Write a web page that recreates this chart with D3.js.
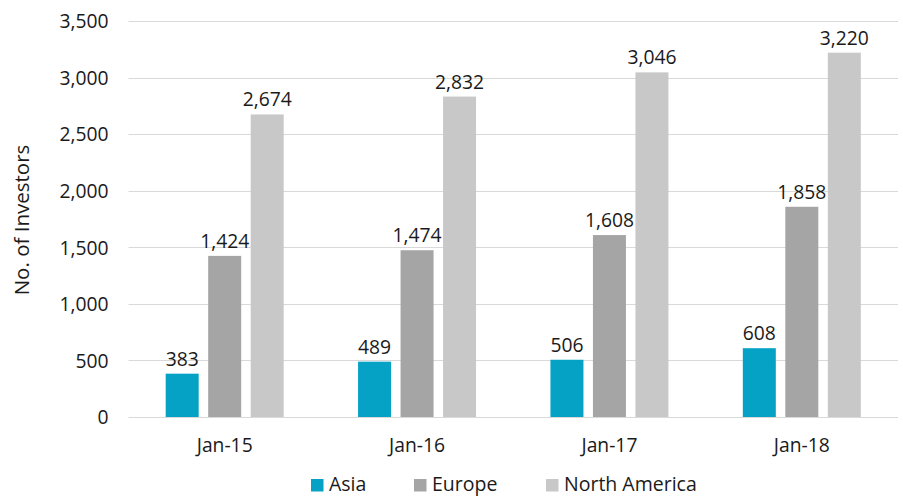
<!DOCTYPE html>
<html lang="en">
<head>
    <meta charset="UTF-8">
    <title>Investors</title>
    <script src="https://d3js.org/d3.v7.min.js"></script>
    <style>
        body { margin: 0; background: #fff; }
        svg text { font-family: "Open Sans", sans-serif; fill: #1a1a1a; }
        .grid line { stroke: #d9d9d9; stroke-width: 1px; }
    </style>
</head>
<body>
<svg id="canvas" width="903" height="496"></svg>
<script>
    const categories = ["Jan-15", "Jan-16", "Jan-17", "Jan-18"];
    const seriesNames = ["Asia", "Europe", "North America"];
    const asia = [383, 489, 506, 608];
    const europe = [1424, 1474, 1608, 1858];
    const northAmerica = [2674, 2832, 3046, 3220];
    const yTicks = [0, 500, 1000, 1500, 2000, 2500, 3000, 3500];
    const colors = ["#05a2c6", "#a5a5a5", "#c8c8c8"];

    const values = [asia, europe, northAmerica];
    const svg = d3.select('#canvas');
    const plotLeft = 128.5, plotRight = 898, plotTop = 21, plotBottom = 417;
    const fs = 19.3;

    const x = d3.scaleBand().domain(categories).range([plotLeft, plotRight]);
    const y = d3.scaleLinear().domain([0, 3500]).range([plotBottom, plotTop]);
    const barW = 33, gap = 9.5;
    const xs = d3.scaleOrdinal().domain(seriesNames)
        .range(seriesNames.map((s, i) => (i - 1) * (barW + gap) - barW / 2));

    // gridlines
    svg.append('g').attr('class', 'grid')
        .selectAll('line').data(yTicks).enter().append('line')
        .attr('x1', plotLeft).attr('x2', plotRight)
        .attr('y1', d => Math.round(y(d)) + 0.5).attr('y2', d => Math.round(y(d)) + 0.5);

    // y axis labels
    const yAxis = svg.append('g').attr('transform', `translate(${plotLeft - 20},0)`)
        .call(d3.axisLeft(y).tickValues(yTicks).tickSize(0).tickFormat(d3.format(',')));
    yAxis.select('.domain').remove();
    yAxis.selectAll('text').attr('font-size', fs).attr('x', 0).attr('dy', '0.35em');

    // x axis labels
    const xAxis = svg.append('g').attr('transform', `translate(0,${plotBottom})`)
        .call(d3.axisBottom(x).tickSize(0));
    xAxis.select('.domain').remove();
    xAxis.selectAll('text').attr('font-size', fs).attr('y', 28).attr('dy', '0.35em');

    // bars
    seriesNames.forEach((s, i) => {
        const g = svg.append('g');
        g.selectAll('rect').data(values[i]).enter().append('rect')
            .attr('x', (d, j) => x(categories[j]) + x.bandwidth() / 2 + xs(s))
            .attr('y', d => y(d))
            .attr('width', barW)
            .attr('height', d => plotBottom - y(d))
            .attr('fill', colors[i]);
        g.selectAll('text').data(values[i]).enter().append('text')
            .attr('x', (d, j) => x(categories[j]) + x.bandwidth() / 2 + xs(s) + barW / 2)
            .attr('y', d => y(d) - 8)
            .attr('text-anchor', 'middle')
            .attr('font-size', fs)
            .text(d => d3.format(',')(d));
    });

    // y title
    svg.append('text')
        .attr('transform', 'translate(29,220) rotate(-90)')
        .attr('text-anchor', 'middle')
        .attr('font-size', 20.5)
        .text('No. of Investors');

    // legend
    const legendX = [311, 414, 546];
    const legend = svg.append('g');
    seriesNames.forEach((s, i) => {
        legend.append('rect').attr('x', legendX[i]).attr('y', 479)
            .attr('width', 12.5).attr('height', 12.5).attr('fill', colors[i]);
        legend.append('text').attr('x', legendX[i] + 18).attr('y', 484)
            .attr('dy', '0.35em').attr('font-size', 19.5).text(s);
    });
</script>
</body>
</html>
